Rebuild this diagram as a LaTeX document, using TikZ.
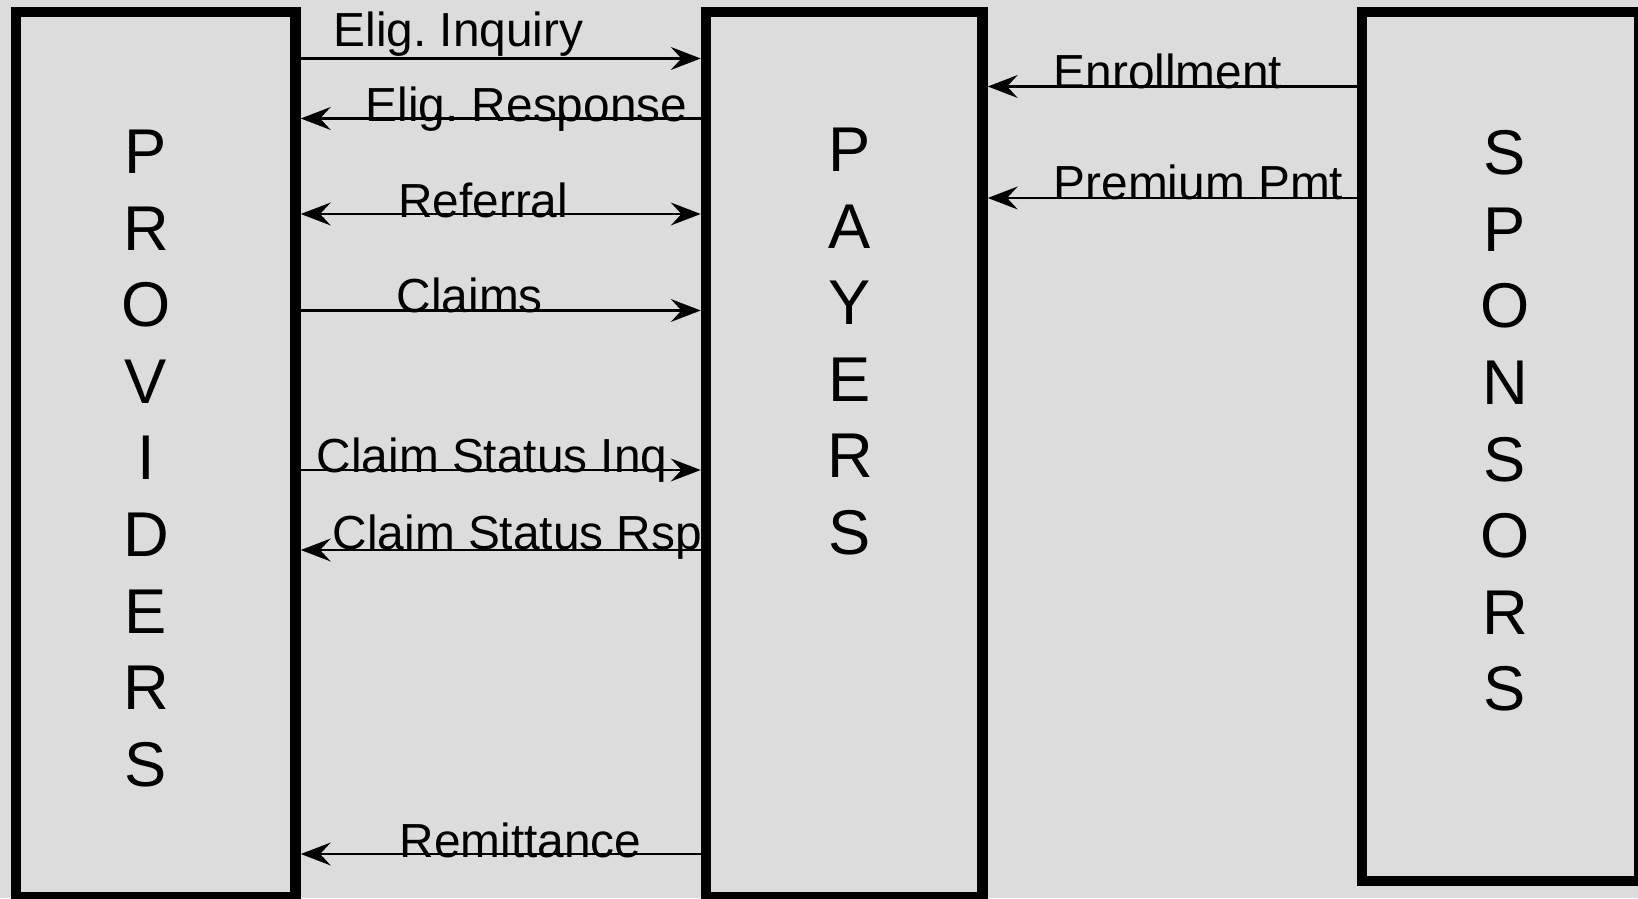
\documentclass[tikz,border=0pt]{standalone}
\usepackage{fontspec}
\setmainfont{Liberation Sans}
\usetikzlibrary{arrows.meta}
\definecolor{sheet}{RGB}{220,220,220}
\frenchspacing

\begin{document}
\begin{tikzpicture}[
    >={Stealth[length=8.5pt,width=6.5pt,inset=3pt]},
    panel/.style={
        rectangle,
        draw=black,
        line width=3pt,
        fill=sheet,
        inner sep=0pt
    },
    lettering/.style={
        inner sep=0pt,
        align=center,
        font=\fontsize{18pt}{21.8pt}\selectfont
    },
    msg/.style={
        inner sep=0pt,
        anchor=base west,
        font=\fontsize{13.6pt}{15pt}\selectfont
    },
    flow/.style={
        line width=0.6pt
    }
]

\fill[sheet] (0,0) rectangle (16.38,8.98);
\useasboundingbox (0,0) rectangle (16.38,8.98);

\node[panel, minimum width=2.795cm, minimum height=8.85cm] (prov) at (1.5575,4.435) {};
\node[panel, minimum width=2.765cm, minimum height=8.85cm] (pay) at (8.4425,4.435) {};
\node[panel, minimum width=2.77cm, minimum height=8.69cm] (spon) at (15.005,4.515) {};

\node[lettering] (provtxt) at (1.46,4.395) {P\\R\\O\\V\\I\\D\\E\\R\\S};
\node[lettering] (paytxt) at (8.50,5.565) {P\\A\\Y\\E\\R\\S};
\node[lettering] (spontxt) at (15.05,4.77) {S\\P\\O\\N\\S\\O\\R\\S};

% message rows
\coordinate (inq) at (0,8.395);
\coordinate (rsp) at (0,7.795);
\coordinate (ref) at (0,6.84);
\coordinate (clm) at (0,5.875);
\coordinate (csi) at (0,4.28);
\coordinate (csr) at (0,3.48);
\coordinate (rem) at (0,0.44);
\coordinate (enr) at (0,8.115);
\coordinate (prm) at (0,7.0);

\draw[flow, ->] (prov.east |- inq) -- (pay.west |- inq);
\draw[flow, <-] (prov.east |- rsp) -- (pay.west |- rsp);
\draw[flow, <->] (prov.east |- ref) -- (pay.west |- ref);
\draw[flow, ->] (prov.east |- clm) -- (pay.west |- clm);
\draw[flow, ->] (prov.east |- csi) -- (pay.west |- csi);
\draw[flow, <-] (prov.east |- csr) -- (pay.west |- csr);
\draw[flow, <-] (prov.east |- rem) -- (pay.west |- rem);
\draw[flow, <-] (pay.east |- enr) -- (spon.west |- enr);
\draw[flow, <-] (pay.east |- prm) -- (spon.west |- prm);

\node[msg] (inqlbl) at (3.33,8.513) {Elig. Inquiry};
\node[msg] (rsplbl) at (3.65,7.763) {Elig. Response};
\node[msg] (reflbl) at (3.975,6.80) {Referral};
\node[msg] (clmlbl) at (3.96,5.85) {Claims};
\node[msg] (csilbl) at (3.16,4.25) {Claim Status Inq};
\node[msg] (csrlbl) at (3.32,3.48) {Claim Status Rsp};
\node[msg] (remlbl) at (3.99,0.41) {Remittance};
\node[msg] (enrlbl) at (10.53,8.09) {Enrollment};
\node[msg] (prmlbl) at (10.53,6.98) {Premium Pmt};

\end{tikzpicture}
\end{document}
